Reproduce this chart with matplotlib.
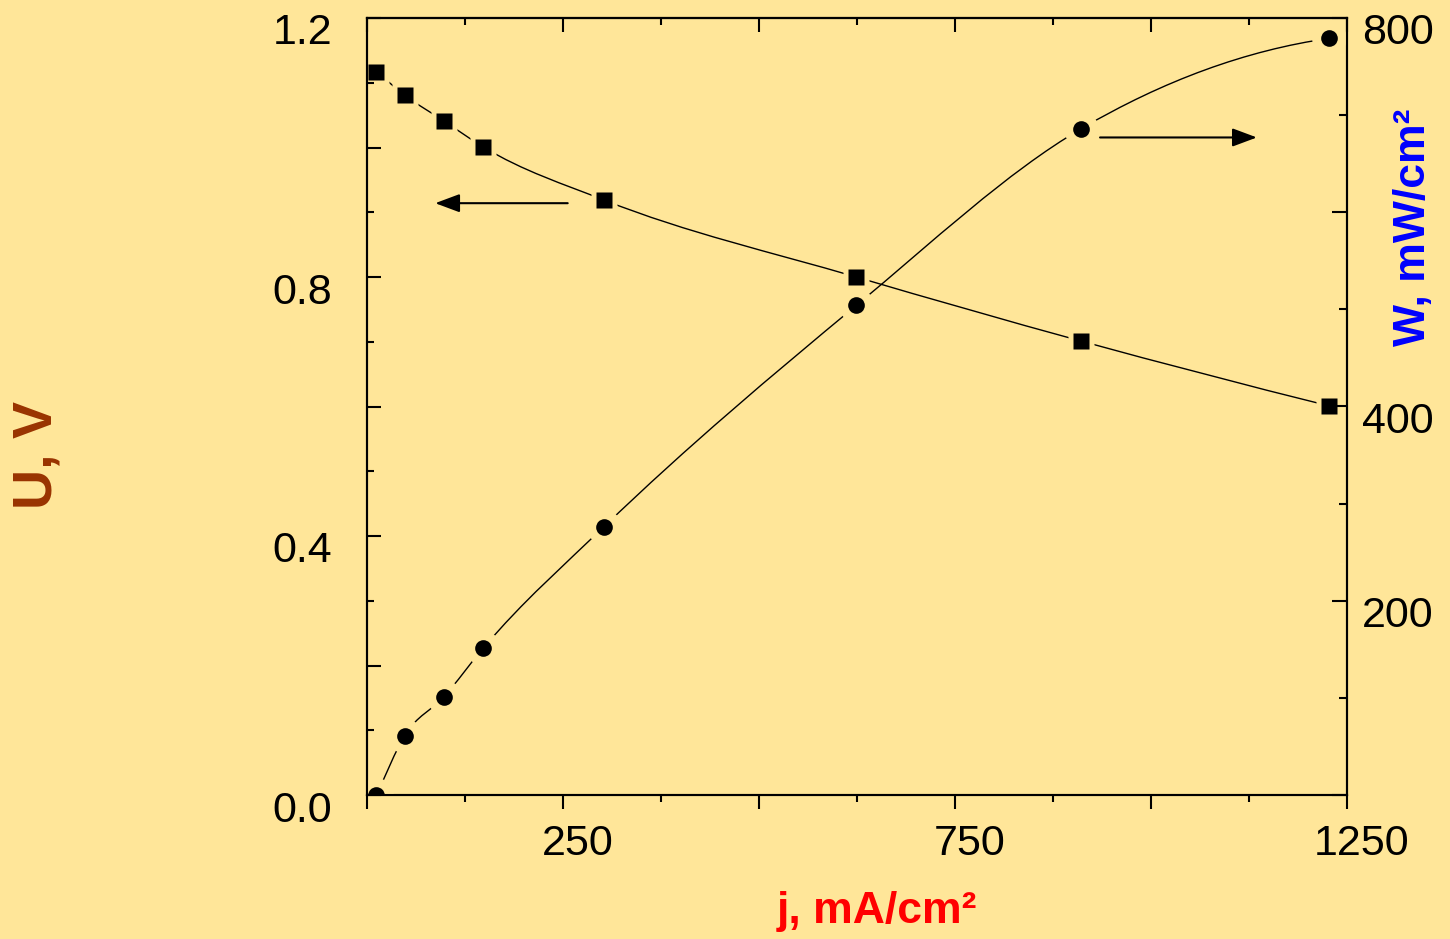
import numpy as np
import matplotlib.pyplot as plt
import matplotlib.transforms as mtrans
from matplotlib.path import Path
from matplotlib.patches import PathPatch
from matplotlib.ticker import MultipleLocator

plt.rcParams['font.family'] = ['Liberation Sans', 'DejaVu Sans']

bg = '#FFE699'

# current density, voltage and power density
j = [12, 48, 98, 148, 302, 624, 911, 1227]
U = [1.117, 1.081, 1.041, 1.001, 0.919, 0.800, 0.701, 0.601]
W = [0, 61, 101, 151, 276, 504, 686, 779]

x_ticks = [0, 250, 500, 750, 1000, 1250]
x_labels = ['', '250', '', '750', '', '1250']
u_ticks = [0.0, 0.2, 0.4, 0.6, 0.8, 1.0, 1.2]
u_labels = ['0.0', '', '0.4', '', '0.8', '', '1.2']
w_ticks = [0, 200, 400, 600, 800]
w_labels = ['', '200', '400', '', '800']


def smooth_path(x, y):
    # cubic hermite segments through the points, as bezier curves
    x = np.asarray(x, float)
    y = np.asarray(y, float)
    h = np.diff(x)
    s = np.diff(y) / h
    m = np.empty_like(x)
    m[1:-1] = (s[:-1] * h[1:] + s[1:] * h[:-1]) / (h[:-1] + h[1:])
    m[0] = s[0]
    m[-1] = 2 * s[-1] - m[-2]
    verts = [(x[0], y[0])]
    codes = [Path.MOVETO]
    for i in range(len(h)):
        verts += [(x[i] + h[i] / 3, y[i] + m[i] * h[i] / 3),
                  (x[i + 1] - h[i] / 3, y[i + 1] - m[i + 1] * h[i] / 3),
                  (x[i + 1], y[i + 1])]
        codes += [Path.CURVE4] * 3
    return Path(verts, codes)


fig = plt.figure(figsize=(14.5, 9.39), dpi=100, facecolor=bg)
ax = fig.add_axes([367 / 1450, 1 - 795 / 939, 980 / 1450, 777 / 939])
ax.set_facecolor(bg)
ax2 = ax.twinx()
for a in (ax, ax2):
    a.set_axisbelow(False)
    for sp in a.spines.values():
        sp.set_linewidth(1.5)
        sp.set_zorder(3)

ax.set_xlim(0, 1250)
ax.set_ylim(0, 1.2)
ax2.set_ylim(0, 800)

# U curve (background-coloured markers cut the gaps in the line)
ax.add_patch(PathPatch(smooth_path(j, U), fill=False, lw=1.0, color='black', zorder=1))
ax.plot(j, U, 's', ms=19, color=bg, mec='none', zorder=2)
ax.plot(j, U, 's', ms=11.5, color='black', mec='none', zorder=4)

# W curve
ax2.add_patch(PathPatch(smooth_path(j, W), fill=False, lw=1.0, color='black', zorder=1))
ax2.plot(j, W, 'o', ms=25, color=bg, mec='none', zorder=2)
ax2.plot(j, W, 'o', ms=12, color='black', mec='none', zorder=4)

arrow = dict(arrowstyle='-|>,head_length=0.75,head_width=0.28', color='black',
             lw=1.5, mutation_scale=20, shrinkA=0, shrinkB=0)
ax.annotate('', xy=(87, 0.914), xytext=(256, 0.914), arrowprops=arrow, zorder=5)
ax2.annotate('', xy=(1135, 677), xytext=(935, 677), arrowprops=arrow, zorder=5)

# ticks
ax.set_xticks(x_ticks)
ax.set_xticklabels(x_labels)
ax.xaxis.set_minor_locator(MultipleLocator(125))
ax.set_yticks(u_ticks)
ax.set_yticklabels(u_labels)
ax.yaxis.set_minor_locator(MultipleLocator(0.1))
ax2.set_yticks(w_ticks)
ax2.set_yticklabels(w_labels)
ax2.yaxis.set_minor_locator(MultipleLocator(100))

ax.tick_params(axis='x', which='both', direction='out', top=False, bottom=True,
               labelsize=31, width=1.5, pad=11)
ax.tick_params(axis='x', which='major', length=10)
ax.tick_params(axis='x', which='minor', length=5)
ax.tick_params(axis='y', which='both', direction='in', left=True, right=False,
               labelsize=31, width=1.5, pad=25)
ax.tick_params(axis='y', which='major', length=10)
ax.tick_params(axis='y', which='minor', length=5)
ax2.tick_params(axis='y', which='both', direction='in', labelsize=31, width=1.5, pad=11)
ax2.tick_params(axis='y', which='major', length=11)
ax2.tick_params(axis='y', which='minor', length=6)

top = ax.secondary_xaxis('top')
top.set_xticks(x_ticks)
top.set_xticklabels([])
top.xaxis.set_minor_locator(MultipleLocator(125))
top.tick_params(which='both', direction='in', width=1.5)
top.tick_params(which='major', length=10)
top.tick_params(which='minor', length=5)
for sp in top.spines.values():
    sp.set_linewidth(1.5)

# the original labels sit a little off their ticks
shift_x = mtrans.ScaledTranslation(0.15, 0, fig.dpi_scale_trans)
shift_y = mtrans.ScaledTranslation(0, -0.11, fig.dpi_scale_trans)
for lab in ax.get_xticklabels():
    lab.set_transform(lab.get_transform() + shift_x)
for lab in ax.get_yticklabels() + ax2.get_yticklabels():
    lab.set_transform(lab.get_transform() + shift_y)

fig.text(877 / 1450, 1 - 912 / 939, 'j, mA/cm²', color='#FF0000', fontsize=32,
         fontweight='bold', ha='center', va='center')
fig.text(1413 / 1450, 1 - 227 / 939, 'W, mW/cm²', color='#0000FF', fontsize=32,
         fontweight='bold', ha='center', va='center', rotation=90)
fig.text(38 / 1450, 1 - 455 / 939, 'U, V', color='#993300', fontsize=40,
         fontweight='bold', ha='center', va='center', rotation=90)

fig.savefig('out.png', dpi=100, facecolor=bg)
